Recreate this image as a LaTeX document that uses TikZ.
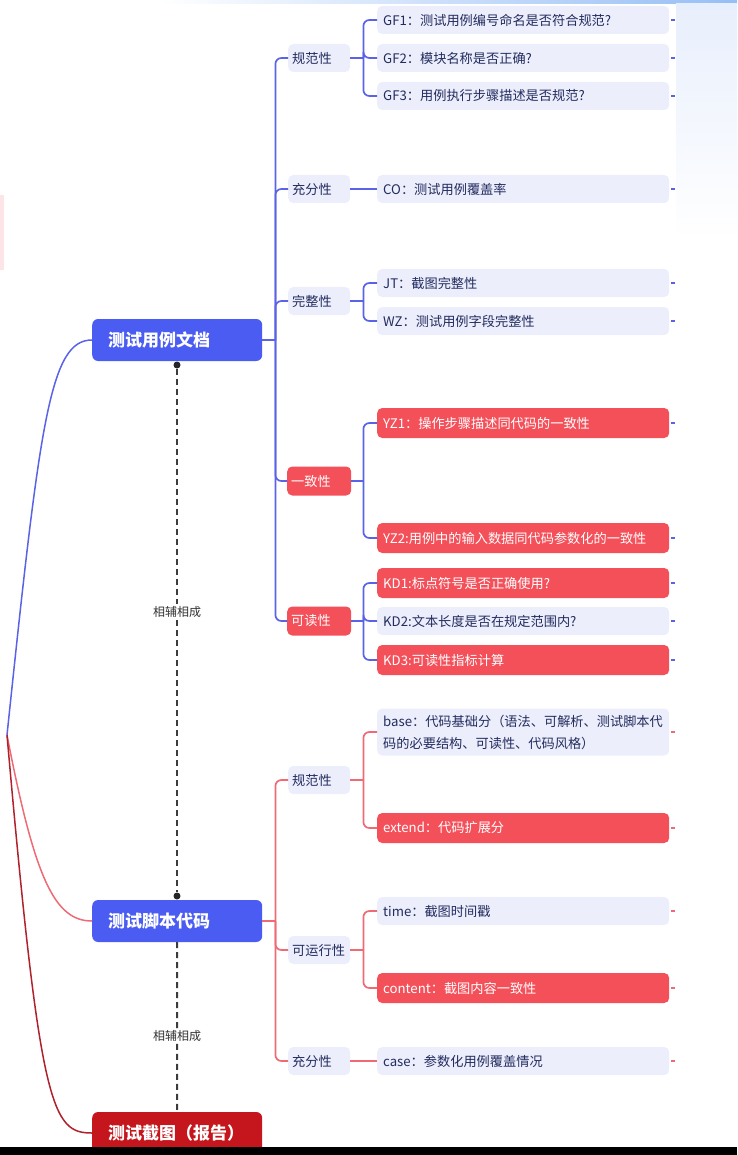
\documentclass[tikz,border=0pt]{standalone}
\usepackage{fontspec}
\setmainfont{Noto Sans CJK SC}
\definecolor{mainblue}{RGB}{74,92,242}
\definecolor{maindark}{RGB}{196,22,28}
\definecolor{redfill}{RGB}{244,80,90}
\definecolor{lightfill}{RGB}{236,238,252}
\definecolor{navy}{RGB}{35,44,94}
\definecolor{blueline}{RGB}{90,98,230}
\definecolor{pinkline}{RGB}{238,106,117}
\definecolor{darkline}{RGB}{176,34,43}
\definecolor{dashgray}{RGB}{60,60,60}
\definecolor{topblue}{RGB}{150,190,245}
\definecolor{sideblue}{RGB}{232,239,252}
\definecolor{sidepink}{RGB}{253,228,231}
\tikzset{
  boxbase/.style={rounded corners=5pt, inner ysep=0pt, anchor=west, align=left, font=\fontsize{13.2}{16}\selectfont},
  leafL/.style={boxbase, fill=lightfill, text=navy, text width=280pt, inner xsep=6pt, minimum height=28pt},
  leafR/.style={boxbase, fill=redfill, text=white, text width=280pt, inner xsep=6pt, minimum height=30pt},
  catL/.style={boxbase, fill=lightfill, text=navy, text width=54pt, inner xsep=4pt, minimum height=28pt},
  catR/.style={boxbase, fill=redfill, text=white, text width=56pt, inner xsep=4pt, minimum height=29pt},
  mainnode/.style={boxbase, rounded corners=6pt, text=white, text width=138pt, inner xsep=16pt, minimum height=42pt, font=\fontsize{17}{20}\selectfont\bfseries},
  bl/.style={draw=blueline, line width=1.7pt, rounded corners=6pt},
  pl/.style={draw=pinkline, line width=1.7pt, rounded corners=6pt},
  tick/.style={line width=1.3pt},
  dashline/.style={draw=dashgray, line width=2pt, dash pattern=on 6pt off 4pt},
  dotnode/.style={circle, fill=black!85, inner sep=0pt, minimum size=7pt},
  lbl/.style={fill=white, inner sep=2pt, text=black!80, font=\fontsize{12}{14}\selectfont}
}
\begin{document}
\begin{tikzpicture}[x=1pt,y=-1pt]
\useasboundingbox (0,0) rectangle (737,1155);
% background artefacts
\shade[left color=white, right color=topblue] (160,0) rectangle (737,4);
\shade[top color=sideblue, bottom color=white] (676,4) rectangle (737,240);
\fill[sidepink] (0,195) rectangle (4,270);

% main nodes
\node[mainnode, fill=mainblue] (m1) at (92,340) {测试用例文档};
\node[mainnode, fill=mainblue] (m2) at (92,921) {测试脚本代码};
\node[mainnode, fill=maindark] (m3) at (92,1133) {测试截图（报告）};

% root curves
\coordinate (root) at (7,735);
\draw[draw=blueline, line width=1.5pt] (root) .. controls (40,420) and (50,340) .. (m1.west);
\draw[draw=pinkline, line width=1.5pt] (root) .. controls (35,880) and (55,921) .. (m2.west);
\draw[draw=darkline, line width=1.5pt] (root) .. controls (40,1110) and (52,1133) .. (m3.west);

% categories of m1
\node[catL] (a1) at (288,58) {规范性};
\node[catL] (a2) at (288,189) {充分性};
\node[catL] (a3) at (288,301) {完整性};
\node[catR] (a4) at (287,481) {一致性};
\node[catR] (a5) at (287,621) {可读性};
% leaves of m1
\node[leafL] (g1) at (377,20) {GF1：测试用例编号命名是否符合规范?};
\node[leafL] (g2) at (377,58) {GF2：模块名称是否正确?};
\node[leafL] (g3) at (377,96) {GF3：用例执行步骤描述是否规范?};
\node[leafL] (co) at (377,189) {CO：测试用例覆盖率};
\node[leafL] (jt) at (377,283) {JT：截图完整性};
\node[leafL] (wz) at (377,321) {WZ：测试用例字段完整性};
\node[leafR] (y1) at (377,423) {YZ1：操作步骤描述同代码的一致性};
\node[leafR] (y2) at (377,538) {YZ2:用例中的输入数据同代码参数化的一致性};
\node[leafR] (k1) at (377,583) {KD1:标点符号是否正确使用?};
\node[leafL] (k2) at (377,621) {KD2:文本长度是否在规定范围内?};
\node[leafR] (k3) at (377,660) {KD3:可读性指标计算};

% categories of m2
\node[catL] (b1) at (288,780) {规范性};
\node[catL] (b2) at (288,950) {可运行性};
\node[catL] (b3) at (288,1061) {充分性};
% leaves of m2
\node[leafL, minimum height=47pt, font=\fontsize{13.2}{22}\selectfont] (bs) at (377,732) {base：代码基础分（语法、可解析、测试脚本代\\码的必要结构、可读性、代码风格）};
\node[leafR] (ex) at (377,828) {extend：代码扩展分};
\node[leafL] (ti) at (377,911) {time：截图时间戳};
\node[leafR] (ct) at (377,988) {content：截图内容一致性};
\node[leafL] (cs) at (377,1061) {case：参数化用例覆盖情况};

% junctions
\coordinate (j1) at ([xshift=13pt]m1.east);
\coordinate (j2) at ([xshift=13pt]m2.east);
\coordinate (ja1) at ([xshift=13pt]a1.east);
\coordinate (ja3) at ([xshift=13pt]a3.east);
\coordinate (ja4) at ([xshift=12pt]a4.east);
\coordinate (ja5) at ([xshift=12pt]a5.east);
\coordinate (jb1) at ([xshift=13pt]b1.east);
\coordinate (jb2) at ([xshift=13pt]b2.east);

% m1 connectors
\draw[bl] (m1.east) -- (j1);
\foreach \c in {a1,a2,a3,a4,a5} \draw[bl] (j1) |- (\c.west);
\draw[bl] (a1.east) -- (ja1);
\foreach \c in {g1,g2,g3} \draw[bl] (ja1) |- (\c.west);
\draw[bl] (a2.east) -- (co.west);
\draw[bl] (a3.east) -- (ja3);
\foreach \c in {jt,wz} \draw[bl] (ja3) |- (\c.west);
\draw[bl] (a4.east) -- (ja4);
\foreach \c in {y1,y2} \draw[bl] (ja4) |- (\c.west);
\draw[bl] (a5.east) -- (ja5);
\foreach \c in {k1,k2,k3} \draw[bl] (ja5) |- (\c.west);

% m2 connectors
\draw[pl] (m2.east) -- (j2);
\foreach \c in {b1,b2,b3} \draw[pl] (j2) |- (\c.west);
\draw[pl] (b1.east) -- (jb1);
\foreach \c in {bs,ex} \draw[pl] (jb1) |- (\c.west);
\draw[pl] (b2.east) -- (jb2);
\foreach \c in {ti,ct} \draw[pl] (jb2) |- (\c.west);
\draw[pl] (b3.east) -- (cs.west);

% right-edge ticks
\foreach \c in {g1,g2,g3,co,jt,wz,y1,y2,k1,k2,k3}
  \draw[tick, draw=blueline] ([xshift=2pt]\c.east) -- ([xshift=6pt]\c.east);
\foreach \c in {bs,ex,ti,ct,cs}
  \draw[tick, draw=pinkline] ([xshift=2pt]\c.east) -- ([xshift=6pt]\c.east);

% dashed relations
\node[dotnode] (d1) at (177,365) {};
\node[dotnode] (d2) at (177,896) {};
\node[lbl] (l1) at (177,612) {相辅相成};
\node[lbl] (l2) at (177,1036) {相辅相成};
\draw[dashline] (d1) -- (l1);
\draw[dashline] (l1) -- (d2);
\draw[dashline] (m2.south) -- (l2);
\draw[dashline] (l2) -- (m3.north);

% bottom bar
\fill[black] (0,1147) rectangle (737,1155);
\end{tikzpicture}
\end{document}
